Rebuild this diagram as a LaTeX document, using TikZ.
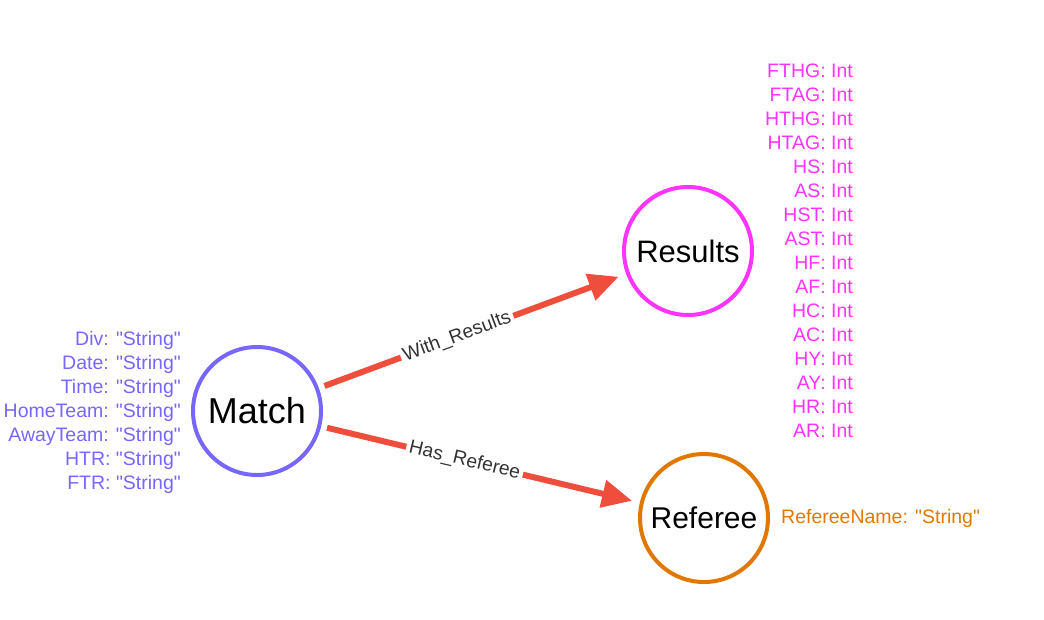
\documentclass[tikz,border=0pt]{standalone}
\usepackage{fontspec}
\setmainfont{Liberation Sans}[Ligatures=TeXOff]
\usetikzlibrary{arrows.meta}
\definecolor{matchc}{HTML}{7766FF}
\definecolor{resc}{HTML}{FF33FF}
\definecolor{refc}{HTML}{E07800}
\definecolor{edgec}{HTML}{F04E3C}
\definecolor{labc}{HTML}{333333}
\newcommand{\qs}{"String"}
\tikzset{
  ent/.style={circle, draw, line width=4pt, fill=white, minimum size=128pt, inner sep=0pt, text=black},
  props/.style={align=right, font=\fontsize{19.5}{24}\selectfont, inner sep=0pt},
  rel/.style={draw=edgec, line width=6pt, -{Triangle[length=30pt,width=27pt]}, shorten <=6pt, shorten >=8pt},
  rlab/.style={fill=white, text=labc, font=\fontsize{19.3}{21}\selectfont, inner sep=3pt, sloped}
}
\begin{document}
\begin{tikzpicture}[x=1pt,y=-1pt]
\useasboundingbox (0,0) rectangle (1044,619);
\node[ent, draw=matchc, font=\fontsize{36}{38}\selectfont] (match) at (257,411) {Match};
\node[ent, draw=resc, font=\fontsize{31}{33}\selectfont] (results) at (688,251) {Results};
\node[ent, draw=refc, font=\fontsize{30}{32}\selectfont] (referee) at (704,518) {Referee};
\node[props, text=matchc, anchor=east] (mprops) at (181,412) {Div: \qs\\Date: \qs\\Time: \qs\\HomeTeam: \qs\\AwayTeam: \qs\\HTR: \qs\\FTR: \qs};
\node[props, text=resc, anchor=east] (rprops) at (853,251) {FTHG: Int\\FTAG: Int\\HTHG: Int\\HTAG: Int\\HS: Int\\AS: Int\\HST: Int\\AST: Int\\HF: Int\\AF: Int\\HC: Int\\AC: Int\\HY: Int\\AY: Int\\HR: Int\\AR: Int};
\node[props, text=refc, anchor=west] (fprops) at (781,518) {RefereeName: \qs};
\draw[rel] (match) -- node[rlab, pos=0.45] (l1) {With\_Results} (results);
\draw[rel] (match) -- node[rlab, pos=0.45] (l2) {Has\_Referee} (referee);
\end{tikzpicture}
\end{document}
